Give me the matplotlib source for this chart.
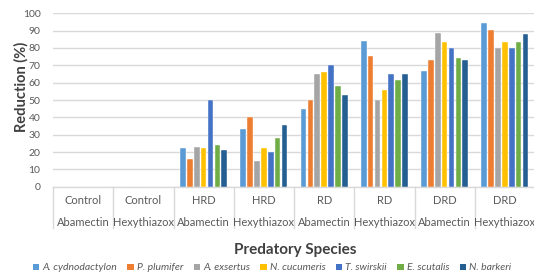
import matplotlib
matplotlib.use("Agg")
import matplotlib.pyplot as plt
import numpy as np
from matplotlib.patches import Patch

plt.rcParams['font.family'] = ['Lato', 'DejaVu Sans']

# data
treatments = ["Control", "Control", "HRD", "HRD", "RD", "RD", "DRD", "DRD"]
acaricides = ["Abamectin", "Hexythiazox", "Abamectin", "Hexythiazox",
              "Abamectin", "Hexythiazox", "Abamectin", "Hexythiazox"]
species = ["A. cydnodactylon", "P. plumifer", "A. exsertus", "N. cucumeris",
           "T. swirskii", "E. scutalis", "N. barkeri"]

cydnodactylon = [0, 0, 22.3, 33.5, 44.6, 84.0, 66.9, 94.6]
plumifer      = [0, 0, 16.0, 40.0, 50.2, 75.2, 73.0, 90.2]
exsertus      = [0, 0, 22.9, 15.0, 65.0, 50.2, 88.5, 80.2]
cucumeris     = [0, 0, 22.3, 22.3, 66.2, 55.8, 83.5, 83.5]
swirskii      = [0, 0, 50.0, 20.0, 70.2, 65.2, 80.2, 80.2]
scutalis      = [0, 0, 23.8, 27.9, 58.0, 61.3, 74.0, 83.3]
barkeri       = [0, 0, 21.2, 35.4, 52.9, 65.0, 73.0, 88.3]

series = [cydnodactylon, plumifer, exsertus, cucumeris, swirskii, scutalis, barkeri]
colors = ["#5B9BD5", "#ED7D31", "#A5A5A5", "#FFC000", "#4472C4", "#70AD47", "#255E91"]

W, H = 534, 277
fig = plt.figure(figsize=(W / 100, H / 100), dpi=100)
ax = fig.add_axes([53 / W, (H - 186.7) / H, 482 / W, 173.4 / H])

grid_c = "#D9D9D9"
text_c = "#595959"

n = len(series)
pitch = 0.114
bw = 0.094
x = np.arange(len(treatments)) + 0.5
for i, (vals, c) in enumerate(zip(series, colors)):
    off = (i - (n - 1) / 2) * pitch
    ax.bar(x + off, vals, width=bw, color=c, edgecolor="white", linewidth=0.3,
           zorder=3)

ax.set_xlim(0, len(treatments))
ax.set_ylim(0, 100)
ax.set_yticks(np.arange(0, 101, 10))
ax.yaxis.grid(True, color=grid_c, linewidth=1.0, zorder=0)
ax.set_axisbelow(True)
ax.tick_params(axis="y", length=0, labelsize=7.5, labelcolor=text_c, pad=9)
ax.set_xticks([])
for s in ["top", "right", "left"]:
    ax.spines[s].set_visible(False)
ax.spines["bottom"].set_color(grid_c)
ax.spines["bottom"].set_linewidth(1.0)

trans = ax.get_xaxis_transform()
for k in range(len(treatments) + 1):
    ax.plot([k, k], [0, -0.238], transform=trans, color=grid_c, linewidth=1.0,
            clip_on=False)
for xi, t, a in zip(x, treatments, acaricides):
    ax.text(xi, -0.082, t, transform=trans, ha="center", va="center",
            fontsize=8, color=text_c)
    ax.text(xi, -0.204, a, transform=trans, ha="center", va="center",
            fontsize=8, color=text_c)

fig.text(295 / W, 1 - 250 / H, "Predatory Species", ha="center", va="center",
         fontsize=11, fontweight="bold", color="#404040")
fig.text(21 / W, 1 - 87 / H, "Reduction (%)", ha="center", va="center",
         rotation=90, fontsize=10.5, fontweight="bold", color="#404040")

handles = [Patch(facecolor=c, edgecolor="none") for c in colors]
leg = fig.legend(handles, species, loc="center", bbox_to_anchor=(272 / W, 1 - 268 / H),
                 ncol=7, frameon=False, fontsize=7.5, handlelength=0.6,
                 handleheight=0.6, handletextpad=0.3, columnspacing=1.0,
                 borderpad=0)
for t in leg.get_texts():
    t.set_style("italic")
    t.set_color(text_c)

fig.savefig("out.png", dpi=100)
